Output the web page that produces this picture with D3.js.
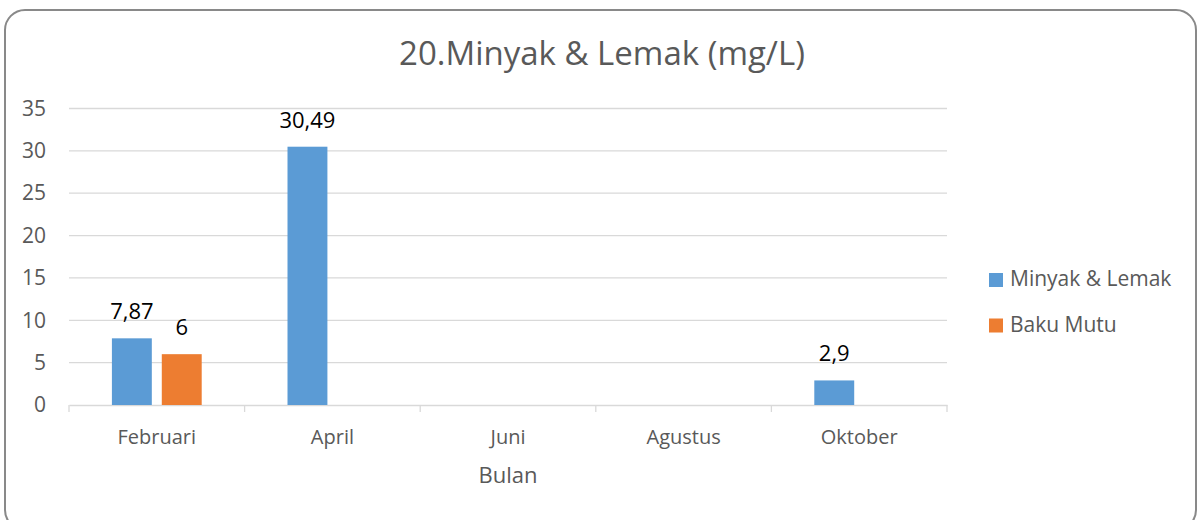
<!DOCTYPE html>
<html>
<head>
<meta charset="utf-8">
<script src="https://cdn.jsdelivr.net/npm/d3@7"></script>
<style>
  html, body { margin: 0; padding: 0; background: #fff; }
  svg text { font-family: "Open Sans", "Noto Sans", sans-serif; }
</style>
</head>
<body>
<svg id="chart" width="1198" height="520"></svg>
<script>
// data
var months = ['Februari', 'April', 'Juni', 'Agustus', 'Oktober'];
var minyakLemak = [7.87, 30.49, null, null, 2.9];
var bakuMutu = [6, null, null, null, null];
var seriesNames = ['Minyak & Lemak', 'Baku Mutu'];
var seriesColors = ['#5B9BD5', '#ED7D31'];
var yTicks = [0, 5, 10, 15, 20, 25, 30, 35];

var svg = d3.select('#chart');

var formatLabel = function(v) {
    return String(v).replace('.', ',');
};

// frame
svg.append('rect')
    .attr('x', 5).attr('y', 10)
    .attr('width', 1191).attr('height', 520)
    .attr('rx', 20).attr('ry', 20)
    .attr('fill', '#fff')
    .attr('stroke', '#898989')
    .attr('stroke-width', 2);

var plot = {left: 69, right: 947, top: 108.5, bottom: 405};

var x = d3.scaleBand()
    .domain(months)
    .range([plot.left, plot.right])
    .paddingInner(0)
    .paddingOuter(0);

var xSeries = d3.scaleBand()
    .domain(seriesNames)
    .range([0, x.bandwidth()])
    .paddingInner(0.2)
    .paddingOuter(0.86);

var y = d3.scaleLinear()
    .domain([0, 35])
    .range([plot.bottom, plot.top]);

// gridlines
svg.append('g')
    .selectAll('line')
    .data(yTicks.filter(function(t) { return t > 0; }))
    .enter().append('line')
    .attr('x1', plot.left).attr('x2', plot.right)
    .attr('y1', function(d) { return y(d); })
    .attr('y2', function(d) { return y(d); })
    .attr('stroke', '#d9d9d9')
    .attr('stroke-width', 1.3);

// y axis labels
var yAxis = d3.axisLeft(y).tickValues(yTicks).tickSize(0).tickPadding(23);
var gy = svg.append('g')
    .attr('transform', 'translate(' + plot.left + ',0)')
    .call(yAxis);
gy.select('.domain').remove();
gy.selectAll('text')
    .attr('fill', '#595959')
    .style('font-size', '21px');

// x axis
var xAxis = d3.axisBottom(x).tickSize(0).tickPadding(25);
var gx = svg.append('g')
    .attr('transform', 'translate(0,' + plot.bottom + ')')
    .call(xAxis);
gx.select('.domain').attr('stroke', '#d9d9d9').attr('stroke-width', 1.3);
gx.selectAll('text')
    .attr('fill', '#595959')
    .style('font-size', '20px');

// category separators
svg.append('g')
    .selectAll('line')
    .data(d3.range(months.length + 1))
    .enter().append('line')
    .attr('x1', function(i) { return plot.left + i * x.bandwidth(); })
    .attr('x2', function(i) { return plot.left + i * x.bandwidth(); })
    .attr('y1', plot.bottom)
    .attr('y2', plot.bottom + 7)
    .attr('stroke', '#d9d9d9')
    .attr('stroke-width', 1.3);

// bars
var allSeries = [minyakLemak, bakuMutu];
allSeries.forEach(function(values, si) {
    var rows = months.map(function(m, i) { return {month: m, value: values[i]}; })
        .filter(function(d) { return d.value !== null; });

    var g = svg.append('g');
    g.selectAll('rect')
        .data(rows)
        .enter().append('rect')
        .attr('x', function(d) { return x(d.month) + xSeries(seriesNames[si]); })
        .attr('y', function(d) { return y(d.value); })
        .attr('width', xSeries.bandwidth())
        .attr('height', function(d) { return y(0) - y(d.value); })
        .attr('fill', seriesColors[si]);

    g.selectAll('text')
        .data(rows)
        .enter().append('text')
        .attr('x', function(d) { return x(d.month) + xSeries(seriesNames[si]) + xSeries.bandwidth() / 2; })
        .attr('y', function(d) { return y(d.value) - 19; })
        .attr('text-anchor', 'middle')
        .attr('fill', '#000')
        .style('font-size', '22px')
        .text(function(d) { return formatLabel(d.value); });
});

// title
svg.append('text')
    .attr('x', 602).attr('y', 65)
    .attr('text-anchor', 'middle')
    .attr('fill', '#595959')
    .style('font-size', '33px')
    .text('20.Minyak & Lemak (mg/L)');

// axis title
svg.append('text')
    .attr('x', 508).attr('y', 483)
    .attr('text-anchor', 'middle')
    .attr('fill', '#595959')
    .style('font-size', '22px')
    .text('Bulan');

// legend
var legend = svg.append('g')
    .selectAll('g')
    .data(seriesNames)
    .enter().append('g')
    .attr('transform', function(d, i) { return 'translate(989,' + (273 + i * 45.5) + ')'; });

legend.append('rect')
    .attr('width', 14).attr('height', 14)
    .attr('fill', function(d, i) { return seriesColors[i]; });

legend.append('text')
    .attr('x', 21).attr('y', 13)
    .attr('fill', '#595959')
    .style('font-size', '21px')
    .text(function(d) { return d; });
</script>
</body>
</html>
